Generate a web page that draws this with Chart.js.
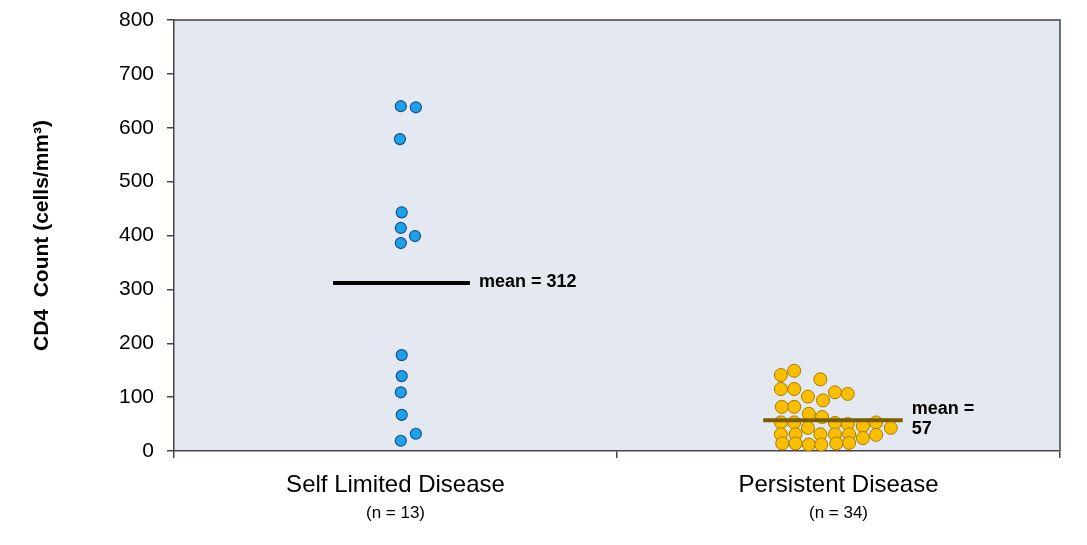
<!DOCTYPE html>
<html><head><meta charset="utf-8">
<script src="https://cdn.jsdelivr.net/npm/chart.js@4.4.1/dist/chart.umd.min.js"></script>
<style>html,body{margin:0;padding:0;background:#fff}</style>
</head><body>
<canvas id="c" width="1087" height="545"></canvas>
<script>
// ---- data ----
const categories = ['Self Limited Disease', 'Persistent Disease'];
const groupSizes = ['(n = 13)', '(n = 34)'];
const yTickValues = [0, 100, 200, 300, 400, 500, 600, 700, 800];
const selfLimitedValues = [640, 638, 579, 443, 414, 399, 386, 178, 139, 109, 67, 19, 32];
const persistentValues = [141, 149, 133, 115, 115, 101, 94, 109, 106, 82, 82, 69, 63,
  53, 53, 43, 52, 50, 46, 53, 43, 31, 31, 31, 31, 31, 24, 30, 14, 14, 12, 12, 14, 15];
const groupMeans = [312, 57];
const meanLabels = [['mean = 312'], ['mean =', '57']];

// ---- layout: horizontal dot placement within each column (category units) ----
const selfLimitedOffsets = [0.012, 0.046, 0.010, 0.014, 0.012, 0.044, 0.012, 0.014, 0.014, 0.012, 0.014, 0.012, 0.046];
const persistentOffsets = [-0.130, -0.100, -0.041, -0.130, -0.100, -0.069, -0.035, -0.008, 0.021,
  -0.128, -0.100, -0.067, -0.037, -0.130, -0.100, -0.069, -0.008, 0.021, 0.055, 0.085, 0.118,
  -0.130, -0.097, -0.041, -0.008, 0.024, 0.055, 0.085, -0.127, -0.097, -0.067, -0.039, -0.005, 0.024];
const meanLineSpan = [[-0.141, 0.168], [-0.170, 0.145]];

const FONT = '"Liberation Sans", Arial, sans-serif';

function pts(center, offsets, values) {
  return values.map((v, i) => ({x: center + offsets[i], y: v}));
}
function meanLine(i) {
  const c = i + 0.5;
  return [{x: c + meanLineSpan[i][0], y: groupMeans[i]}, {x: c + meanLineSpan[i][1], y: groupMeans[i]}];
}

const bgPlugin = {
  id: 'bg',
  beforeDraw(chart) {
    const {ctx, chartArea: a} = chart;
    ctx.save();
    ctx.fillStyle = '#e4e8f1';
    ctx.fillRect(a.left, a.top, a.right - a.left, a.bottom - a.top);
    ctx.restore();
  },
  afterDraw(chart) {
    const {ctx, chartArea: a} = chart;
    ctx.save();
    ctx.strokeStyle = '#444';
    ctx.lineWidth = 1.5;
    ctx.beginPath();
    ctx.moveTo(a.left, a.top); ctx.lineTo(a.right, a.top); ctx.lineTo(a.right, a.bottom);
    ctx.stroke();
    // mean labels
    const xs = chart.scales.x, ys = chart.scales.y;
    ctx.fillStyle = '#000';
    ctx.font = 'bold 18px ' + FONT;
    ctx.textAlign = 'left';
    ctx.textBaseline = 'middle';
    meanLabels.forEach((lines, i) => {
      const x = xs.getPixelForValue(i + 0.5 + meanLineSpan[i][1]) + 9;
      const yc = ys.getPixelForValue(groupMeans[i]);
      const lh = 20;
      lines.forEach((t, j) => {
        ctx.fillText(t, x, yc + (j - (lines.length - 1) / 2) * lh - 1);
      });
    });
    ctx.restore();
  }
};

new Chart(document.getElementById('c'), {
  type: 'scatter',
  data: {
    datasets: [
      {data: pts(0.5, selfLimitedOffsets, selfLimitedValues), backgroundColor: '#1ba3ea', borderColor: '#1d4f8a', borderWidth: 1.2, pointRadius: 5.5, order: 2},
      {data: pts(1.5, persistentOffsets, persistentValues), backgroundColor: '#fcbf00', borderColor: '#a67c00', borderWidth: 1, pointRadius: 6.5, order: 2},
      {data: meanLine(0), showLine: true, borderColor: '#000', borderWidth: 4, pointRadius: 0, order: 1},
      {data: meanLine(1), showLine: true, borderColor: '#7a5c00', borderWidth: 4, pointRadius: 0, order: 1}
    ]
  },
  options: {
    responsive: false,
    animation: false,
    events: [],
    layout: {padding: {left: 0, right: 27, top: 20, bottom: 0}},
    plugins: {legend: {display: false}, tooltip: {enabled: false}},
    scales: {
      x: {
        type: 'linear', min: 0, max: 2, position: 'bottom',
        afterBuildTicks: s => { s.ticks = [0, 0.5, 1, 1.5, 2].map(v => ({value: v})); },
        afterFit: s => { s.height = 46; s.paddingLeft = 0; s.paddingRight = 0; },
        grid: {drawOnChartArea: false, drawTicks: true, tickLength: 7,
          color: c => (c.tick && Number.isInteger(c.tick.value)) ? '#444' : 'rgba(0,0,0,0)', lineWidth: 1.5},
        border: {color: '#444', width: 1.5},
        ticks: {autoSkip: false, maxRotation: 0, padding: 13, color: '#000',
          font: {family: FONT, size: 24},
          callback: v => v === 0.5 ? categories[0] : v === 1.5 ? categories[1] : ''}
      },
      x2: {
        type: 'linear', min: 0, max: 2, position: 'bottom',
        afterBuildTicks: s => { s.ticks = [0.5, 1.5].map(v => ({value: v})); },
        afterFit: s => { s.height = 48; s.paddingLeft = 0; s.paddingRight = 0; },
        grid: {display: false, drawTicks: false},
        border: {display: false},
        ticks: {autoSkip: false, maxRotation: 0, padding: 6, color: '#000',
          font: {family: FONT, size: 17},
          callback: v => v === 0.5 ? groupSizes[0] : v === 1.5 ? groupSizes[1] : ''}
      },
      y: {
        min: 0, max: 800,
        afterBuildTicks: s => { s.ticks = yTickValues.map(v => ({value: v})); },
        afterFit: s => { s.width = 174; s.paddingTop = 0; s.paddingBottom = 0; },
        grid: {drawOnChartArea: false, drawTicks: true, tickLength: 7, color: '#444', lineWidth: 1.5},
        border: {color: '#444', width: 1.5},
        ticks: {padding: 13, color: '#000', font: {family: FONT, size: 21}},
        title: {display: true, text: 'CD4  Count (cells/mm³)', color: '#000',
          font: {family: FONT, size: 21, weight: 'bold'}, padding: {top: 30, bottom: 0}}
      }
    }
  },
  plugins: [bgPlugin]
});
</script>
</body></html>
